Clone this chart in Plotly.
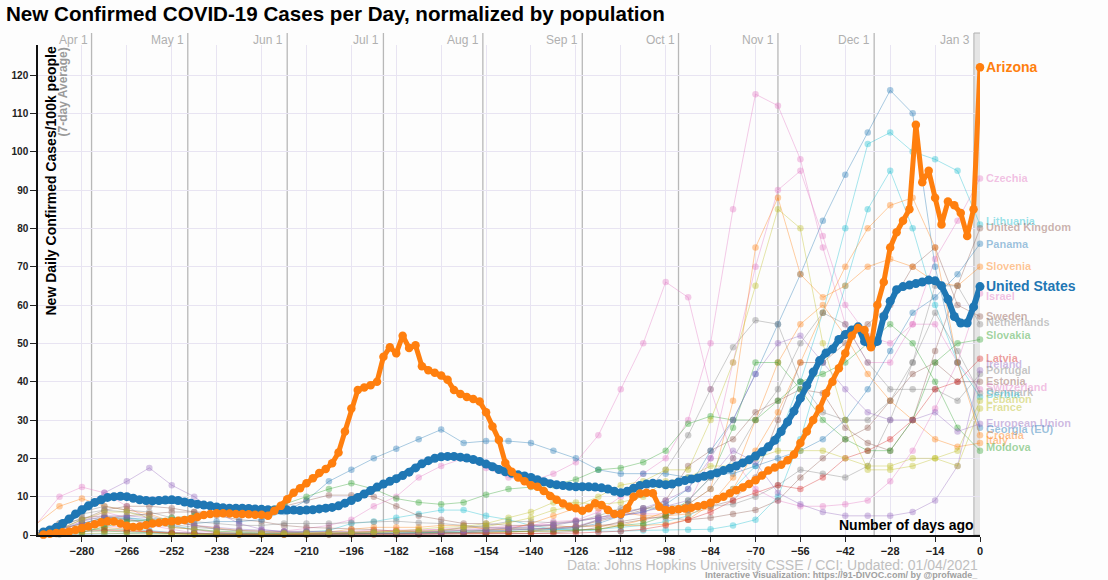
import plotly.graph_objects as go

# ---------------- data ----------------
main_days = list(range(-292, 1, 2))
us = [
    0.8, 1.3, 2.0, 3.0, 4.2, 5.5, 6.6, 7.6, 8.5, 9.2,
    9.8, 10.0, 10.1, 10.0, 9.6, 9.2, 9.0, 8.9, 9.0, 9.1,
    9.2, 9.0, 8.6, 8.3, 8.0, 7.8, 7.6, 7.3, 7.1, 7.0,
    7.0, 7.0, 6.9, 6.8, 6.7, 6.6, 6.5, 6.5, 6.5, 6.5,
    6.4, 6.5, 6.6, 6.8, 7.0, 7.2, 7.6, 8.3, 9.0, 9.8,
    10.7, 11.6, 12.5, 13.3, 14.0, 14.7, 15.5, 16.4, 17.5, 18.6,
    19.4, 20.0, 20.4, 20.5, 20.5, 20.3, 20.1, 19.7, 19.2, 18.5,
    17.8, 17.1, 16.5, 16.1, 15.7, 15.4, 15.0, 14.4, 13.9, 13.4,
    13.1, 12.9, 12.7, 12.6, 12.6, 12.6, 12.5, 12.3, 12.0, 11.4,
    11.0, 11.4, 12.2, 12.9, 13.3, 13.5, 13.4, 13.1, 13.3, 13.8,
    14.2, 14.6, 14.9, 15.3, 15.7, 16.2, 16.8, 17.4, 18.0, 18.8,
    19.6, 20.6, 21.7, 23.0, 24.7, 27.0, 29.5, 32.3, 35.7, 39.0,
    42.5, 45.5, 47.5, 48.5, 51.0, 52.3, 53.5, 54.3, 50.5, 49.2,
    50.5, 57.0, 61.0, 64.0, 64.8, 65.2, 65.6, 66.0, 66.5, 66.3,
    65.0, 61.5, 57.0, 55.3, 55.3, 59.5, 64.8,
]
arizona = [
    0.1, 0.3, 0.5, 0.7, 0.9, 1.3, 1.8, 2.3, 2.8, 3.3,
    3.6, 3.5, 3.0, 2.4, 2.1, 2.2, 2.6, 3.0, 3.2, 3.4,
    3.6, 3.7, 3.9, 4.2, 4.7, 5.2, 5.5, 5.7, 5.7, 5.6,
    5.5, 5.5, 5.4, 5.3, 5.3, 5.0, 6.3, 7.6, 9.3, 11.0,
    12.2, 13.5, 14.8, 16.2, 17.2, 18.7, 21.5, 27.0, 33.0, 37.8,
    38.5, 39.1, 40.0, 46.5, 49.0, 47.4, 52.0, 48.8, 49.5, 44.0,
    43.0, 42.3, 41.6, 40.5, 37.8, 36.8, 36.0, 35.5, 34.8, 32.0,
    28.3, 24.8, 18.8, 16.5, 15.0, 14.0, 13.0, 12.6, 11.5, 10.2,
    9.2, 8.2, 7.4, 7.0, 6.3, 7.0, 8.3, 7.8, 6.5, 5.5,
    5.5, 7.0, 10.0, 10.8, 11.0, 10.9, 7.4, 6.5, 6.5, 6.7,
    6.9, 7.1, 7.5, 7.8, 8.4, 9.4, 10.0, 10.9, 11.7, 12.4,
    13.3, 14.3, 15.5, 16.8, 17.6, 18.3, 19.5, 21.0, 24.0, 27.0,
    30.0, 33.0, 37.0, 40.0, 43.5, 47.4, 52.0, 54.0, 53.5, 49.0,
    60.0, 66.0, 75.0, 79.0, 82.0, 85.0, 107.0, 92.0, 95.0, 88.0,
    81.0, 87.0, 86.0, 84.0, 78.0, 85.0, 122.0,
]

week_days = list(range(-294, 1, 7))
czechia = [0.3, 1.2, 2.3, 2.5, 1.8, 1.0, 0.6, 0.5, 0.4, 0.5, 0.5, 0.6, 0.8, 0.7, 1.0, 1.3, 1.1, 1.2, 1.4, 2.0, 2.0, 2.2,
           2.6, 2.8, 3.8, 6.0, 10.0, 16.0, 20.0, 30.0, 50.0, 85.0, 115.0, 112.0, 98.0, 75.0, 55.0, 45.0, 45.0, 55.0, 72.0, 82.0, 93.0]
israel = [0.1, 0.8, 3.5, 6.0, 4.5, 2.5, 1.5, 0.5, 0.2, 0.2, 0.4, 1.0, 1.7, 2.5, 4.0, 7.5, 10.0, 15.0, 18.0, 20.0, 17.5, 15.0,
          14.0, 16.0, 19.0, 26.0, 38.0, 50.0, 66.0, 62.0, 38.0, 20.0, 12.0, 9.0, 7.5, 7.5, 8.0, 9.0, 14.0, 22.0, 33.0, 45.0, 63.0]
switzerland = [3.0, 10.0, 12.5, 11.0, 7.5, 4.0, 2.5, 1.2, 0.6, 0.4, 0.3, 0.3, 0.3, 0.4, 0.6, 0.9, 1.3, 1.3, 1.5, 1.5, 1.7, 2.0,
               2.5, 3.5, 3.8, 4.5, 5.5, 5.5, 5.5, 8.0, 20.0, 45.0, 70.0, 90.0, 95.0, 78.0, 60.0, 52.0, 50.0, 55.0, 55.0, 45.0, 38.0]
lithuania = [0.1, 0.5, 1.5, 1.5, 1.5, 1.2, 0.6, 0.5, 0.3, 0.3, 0.3, 0.3, 0.2, 0.2, 0.3, 0.3, 0.4, 0.5, 0.8, 1.0, 1.2, 1.2,
             1.5, 1.5, 1.3, 1.5, 2.0, 2.5, 3.5, 5.0, 8.0, 12.0, 18.0, 25.0, 40.0, 58.0, 80.0, 102.0, 105.0, 100.0, 98.0, 95.0, 81.0]
serbia = [0.1, 0.5, 1.5, 3.0, 4.5, 3.5, 2.5, 1.5, 1.0, 0.7, 0.5, 0.4, 0.8, 1.2, 3.0, 3.5, 4.5, 5.5, 6.5, 6.5, 5.0, 4.0,
          2.5, 1.5, 1.5, 1.0, 1.0, 1.2, 1.3, 1.4, 1.5, 2.5, 4.0, 10.0, 25.0, 45.0, 65.0, 85.0, 95.0, 80.0, 60.0, 45.0, 36.0]
united_kingdom = [0.5, 1.5, 4.0, 6.5, 7.5, 7.5, 7.0, 6.0, 5.0, 4.0, 3.5, 2.5, 2.0, 1.8, 1.5, 1.4, 1.0, 1.0, 1.0, 1.2, 1.2, 1.4,
                  1.6, 1.8, 2.2, 3.5, 5.0, 6.5, 9.0, 18.0, 22.0, 25.0, 32.0, 35.0, 38.0, 37.0, 28.0, 24.0, 22.0, 30.0, 48.0, 65.0, 80.0]
sweden = [1.0, 1.5, 3.0, 4.5, 5.0, 5.5, 6.0, 6.0, 6.0, 6.5, 6.5, 7.5, 9.0, 10.4, 10.4, 10.0, 7.5, 5.0, 4.0, 3.0, 3.0, 2.5,
          2.5, 2.5, 2.0, 2.5, 3.0, 4.0, 5.0, 6.5, 7.5, 9.0, 15.0, 30.0, 45.0, 45.0, 50.0, 55.0, 60.0, 70.0, 75.0, 60.0, 57.0]
estonia = [0.3, 2.0, 4.5, 5.0, 4.0, 3.0, 2.0, 1.5, 0.7, 0.4, 0.2, 0.1, 0.1, 0.1, 0.1, 0.1, 0.1, 0.1, 0.2, 0.3, 0.3, 0.3,
           0.4, 0.6, 1.0, 2.0, 3.5, 4.5, 4.5, 4.0, 4.5, 5.5, 6.5, 9.0, 15.0, 20.0, 25.0, 28.0, 35.0, 42.0, 45.0, 40.0, 40.0]
panama = [0.5, 1.5, 3.0, 4.5, 4.5, 4.0, 3.5, 3.0, 3.5, 3.5, 4.0, 6.0, 9.0, 14.0, 17.0, 20.0, 22.5, 25.0, 27.5, 24.0, 24.5, 24.5,
          24.0, 22.0, 20.0, 17.0, 16.0, 16.0, 16.0, 15.0, 16.0, 16.0, 18.0, 20.0, 22.0, 25.0, 30.0, 38.0, 48.0, 58.0, 62.0, 68.0, 76.0]
georgia = [0.0, 0.1, 0.3, 0.4, 0.5, 0.5, 0.4, 0.3, 0.3, 0.3, 0.3, 0.4, 0.4, 0.4, 0.4, 0.5, 0.5, 0.5, 0.6, 0.6, 0.7, 0.8,
           1.0, 1.5, 2.0, 3.0, 5.0, 6.0, 8.0, 12.0, 22.0, 30.0, 42.0, 55.0, 68.0, 82.0, 94.0, 105.0, 116.0, 110.0, 70.0, 45.0, 28.0]
slovenia = [0.5, 2.0, 2.5, 2.0, 1.5, 0.8, 0.4, 0.2, 0.1, 0.1, 0.1, 0.1, 0.2, 0.3, 0.6, 1.0, 1.0, 0.8, 0.7, 0.6, 0.5, 0.7,
            0.8, 1.0, 1.2, 1.5, 2.5, 4.0, 6.0, 8.0, 12.0, 35.0, 75.0, 88.0, 68.0, 62.0, 65.0, 70.0, 72.0, 70.0, 66.0, 65.0, 70.0]
croatia = [0.1, 0.8, 1.5, 1.5, 1.2, 0.8, 0.4, 0.2, 0.1, 0.1, 0.1, 0.1, 0.3, 0.8, 1.5, 2.0, 2.0, 2.0, 2.5, 2.5, 1.5, 1.5,
           3.0, 5.0, 7.0, 7.0, 6.0, 5.0, 5.0, 5.5, 7.0, 12.0, 22.0, 32.0, 45.0, 58.0, 70.0, 80.0, 86.0, 88.0, 75.0, 45.0, 26.0]
italy = [3.0, 7.5, 9.5, 7.5, 6.5, 5.5, 3.5, 2.5, 1.8, 1.2, 1.0, 0.6, 0.4, 0.3, 0.3, 0.3, 0.3, 0.3, 0.4, 0.5, 0.6, 0.8,
         1.0, 2.0, 2.3, 2.4, 2.5, 2.5, 2.8, 4.0, 8.0, 15.0, 30.0, 45.0, 55.0, 60.0, 52.0, 42.0, 35.0, 30.0, 25.0, 23.0, 24.0]
netherlands = [0.5, 3.0, 5.5, 6.5, 6.0, 5.0, 3.5, 2.5, 1.5, 1.2, 1.0, 0.9, 1.0, 0.9, 0.6, 0.5, 0.5, 0.6, 1.0, 2.0, 2.5, 3.5,
               3.5, 3.2, 3.5, 5.0, 7.0, 10.5, 17.0, 26.0, 38.0, 49.0, 56.0, 55.0, 40.0, 32.0, 30.0, 30.0, 35.0, 45.0, 65.0, 65.0, 55.0]
portugal = [0.3, 2.0, 6.0, 7.5, 6.5, 6.0, 4.5, 3.5, 3.0, 2.5, 2.5, 3.0, 3.0, 3.0, 3.2, 3.4, 3.6, 3.2, 3.0, 2.5, 2.0, 1.8,
            2.0, 2.5, 3.5, 4.5, 6.0, 7.0, 7.5, 8.0, 12.0, 20.0, 30.0, 38.0, 50.0, 58.0, 55.0, 45.0, 38.0, 38.0, 38.0, 35.0, 42.0]
denmark = [1.0, 3.0, 4.0, 4.5, 4.0, 3.5, 2.8, 2.0, 1.6, 1.0, 0.8, 0.7, 0.6, 0.5, 0.5, 0.4, 0.3, 0.3, 0.4, 0.7, 1.3, 1.8,
           1.5, 1.7, 1.8, 4.0, 5.5, 7.0, 6.5, 6.5, 7.5, 8.0, 10.0, 13.0, 17.0, 16.0, 15.0, 18.0, 30.0, 45.0, 58.0, 48.0, 37.0]
slovakia = [0.2, 0.5, 1.0, 1.0, 0.8, 0.6, 0.3, 0.2, 0.1, 0.1, 0.1, 0.1, 0.1, 0.2, 0.3, 0.5, 0.5, 0.6, 0.7, 0.8, 0.8, 0.9,
            1.0, 1.0, 1.2, 1.5, 2.5, 3.0, 5.0, 9.0, 15.0, 28.0, 45.0, 45.0, 38.0, 30.0, 25.0, 22.0, 22.0, 30.0, 45.0, 50.0, 51.0]
moldova = [0.1, 0.3, 0.7, 2.0, 3.5, 4.0, 4.5, 5.0, 5.5, 6.0, 7.0, 8.0, 10.0, 12.0, 13.5, 12.0, 9.5, 8.5, 8.0, 8.5, 10.5, 12.0,
           12.5, 13.0, 14.5, 17.0, 17.5, 19.0, 22.0, 29.0, 31.0, 30.0, 30.0, 35.0, 40.0, 42.0, 45.0, 50.0, 55.0, 50.0, 40.0, 28.0, 22.0]
latvia = [0.1, 0.5, 1.0, 1.2, 1.0, 0.8, 0.6, 0.5, 0.3, 0.2, 0.2, 0.1, 0.1, 0.1, 0.1, 0.1, 0.1, 0.2, 0.3, 0.3, 0.4, 0.4,
          0.4, 0.4, 0.5, 0.7, 1.0, 1.5, 2.5, 4.0, 6.0, 9.0, 11.0, 13.0, 12.0, 15.0, 20.0, 22.0, 25.0, 30.0, 38.0, 40.0, 46.0]
ireland = [0.5, 2.5, 7.0, 11.0, 14.0, 17.5, 13.0, 10.0, 6.0, 3.0, 1.5, 0.8, 0.5, 0.3, 0.3, 0.3, 0.3, 0.4, 0.5, 0.6, 0.9, 1.3,
           1.6, 1.8, 2.2, 4.0, 5.0, 6.0, 7.5, 9.0, 15.0, 22.0, 19.0, 11.0, 8.0, 6.0, 5.0, 5.0, 5.0, 6.0, 9.0, 18.0, 43.0]
european_union = [0.5, 1.5, 3.5, 5.0, 5.0, 4.5, 3.5, 2.5, 2.0, 1.5, 1.3, 1.0, 0.9, 0.8, 0.8, 0.8, 0.8, 0.9, 1.0, 1.2, 1.5, 1.8,
                  2.2, 2.8, 3.5, 4.5, 5.5, 7.0, 9.0, 12.0, 20.0, 30.0, 42.0, 50.0, 52.0, 45.0, 38.0, 32.0, 30.0, 30.0, 32.0, 27.0, 29.0]
lebanon = [0.05, 0.2, 0.5, 0.5, 0.3, 0.2, 0.1, 0.1, 0.5, 0.5, 0.3, 0.3, 0.4, 0.4, 0.5, 0.6, 1.0, 1.5, 2.0, 2.2, 3.0, 4.5,
           6.0, 8.5, 8.5, 8.0, 8.5, 10.0, 14.0, 15.0, 18.0, 18.0, 20.0, 22.0, 22.0, 22.0, 20.0, 18.0, 18.0, 20.0, 20.0, 22.0, 35.0]
france = [0.3, 1.5, 4.0, 6.0, 6.0, 4.5, 2.0, 1.5, 1.0, 0.8, 0.5, 0.5, 0.6, 0.7, 0.7, 0.8, 0.9, 1.0, 1.3, 1.7, 2.2, 3.2,
          4.5, 6.5, 7.5, 10.0, 13.0, 14.0, 17.0, 17.0, 30.0, 45.0, 65.0, 85.0, 80.0, 50.0, 30.0, 17.0, 17.0, 18.0, 20.0, 18.0, 33.0]

country_names = ["Czechia", "Israel", "Switzerland", "Lithuania", "Serbia", "United Kingdom", "Sweden",
                 "Estonia", "Panama", "Georgia (EU)", "Slovenia", "Croatia", "Italy", "Netherlands",
                 "Portugal", "Denmark", "Slovakia", "Moldova", "Latvia", "Ireland", "European Union",
                 "Lebanon", "France"]
country_series = [czechia, israel, switzerland, lithuania, serbia, united_kingdom, sweden,
                  estonia, panama, georgia, slovenia, croatia, italy, netherlands,
                  portugal, denmark, slovakia, moldova, latvia, ireland, european_union,
                  lebanon, france]
country_colors = ["#e377c2", "#e377c2", "#e377c2", "#17becf", "#17becf", "#8c564b", "#8c564b",
                  "#8c564b", "#1f77b4", "#1f77b4", "#ff7f0e", "#ff7f0e", "#ff7f0e", "#7f7f7f",
                  "#7f7f7f", "#7f7f7f", "#2ca02c", "#2ca02c", "#d62728", "#9467bd", "#9467bd",
                  "#bcbd22", "#bcbd22"]
# label positions at the right edge (value units)
label_y = {"Czechia": 93.1, "Lithuania": 81.9, "United Kingdom": 80.4, "Panama": 75.9, "Slovenia": 70.2,
           "Israel": 62.4, "Sweden": 57.1, "Netherlands": 55.6, "Slovakia": 52.2, "Latvia": 46.2,
           "Ireland": 44.6, "Portugal": 43.0, "Estonia": 40.2, "Switzerland": 38.6, "Denmark": 37.3,
           "Serbia": 36.8, "Lebanon": 35.5, "France": 33.4, "European Union": 29.2, "Georgia (EU)": 27.7,
           "Croatia": 26.1, "Italy": 24.8, "Moldova": 23.0}
label_colors = {"Czechia": "#e377c2", "Lithuania": "#17becf", "United Kingdom": "#8c564b", "Panama": "#1f77b4",
                "Slovenia": "#ff7f0e", "Israel": "#e377c2", "Sweden": "#8c564b", "Netherlands": "#7f7f7f",
                "Slovakia": "#2ca02c", "Latvia": "#d62728", "Ireland": "#9467bd", "Portugal": "#7f7f7f",
                "Estonia": "#8c564b", "Switzerland": "#e377c2", "Denmark": "#7f7f7f", "Serbia": "#17becf",
                "Lebanon": "#bcbd22", "France": "#bcbd22", "European Union": "#9467bd",
                "Georgia (EU)": "#1f77b4", "Croatia": "#ff7f0e", "Italy": "#ff7f0e", "Moldova": "#2ca02c"}

x_ticks = list(range(-280, 1, 14))
y_ticks = list(range(0, 121, 10))
month_days = [-277, -247, -216, -186, -155, -124, -94, -63, -33]
month_labels = ["Apr 1", "May 1", "Jun 1", "Jul 1", "Aug 1", "Sep 1", "Oct 1", "Nov 1", "Dec 1"]
last_day_band = [-1.9, 0.5]
last_day_label = "Jan 3"

# ---------------- layout helpers (page pixel coordinates) ----------------
PW, PH = 1108, 580
L, R, T, B = 38, 980, 45, 535
X_RANGE = [-293.7, 0]
Y_RANGE = [0, (B - T) / 3.833]
FONT = "Liberation Sans, Arial, sans-serif"


def px(xp):
    return (xp - L) / (R - L)


def py(yp):
    return (B - yp) / (B - T)


def rgba(hexc, a):
    h = hexc.lstrip("#")
    return "rgba(%d,%d,%d,%.2f)" % (int(h[0:2], 16), int(h[2:4], 16), int(h[4:6], 16), a)


fig = go.Figure()

for name, vals, col in zip(country_names, country_series, country_colors):
    fig.add_trace(go.Scatter(
        x=week_days, y=vals, mode="lines+markers", name=name,
        line=dict(color=rgba(col, 0.38), width=1),
        marker=dict(color=rgba(col, 0.38), size=6.5),
        cliponaxis=False, hoverinfo="skip", showlegend=False))

fig.add_trace(go.Scatter(
    x=main_days, y=us, mode="lines+markers", name="United States",
    line=dict(color="#1f77b4", width=6), marker=dict(color="#1f77b4", size=9),
    cliponaxis=False, hoverinfo="skip", showlegend=False))
fig.add_trace(go.Scatter(
    x=main_days, y=arizona, mode="lines+markers", name="Arizona",
    line=dict(color="#ff7f0e", width=5), marker=dict(color="#ff7f0e", size=8.5),
    cliponaxis=False, hoverinfo="skip", showlegend=False))

shapes = []
for d in month_days:
    shapes.append(dict(type="line", xref="x", yref="paper", x0=d, x1=d, y0=0, y1=py(33),
                       line=dict(color="#b8b8b8", width=1.3), layer="below"))
shapes.append(dict(type="rect", xref="x", yref="paper", x0=last_day_band[0], x1=last_day_band[1],
                   y0=0, y1=py(33), fillcolor="rgba(200,200,200,0.45)",
                   line=dict(color="#b0b0b0", width=1), layer="below"))

annotations = []
for d, lab in zip(month_days + [last_day_band[0]], month_labels + [last_day_label]):
    annotations.append(dict(x=d, y=py(40), xref="x", yref="paper", text=lab, showarrow=False,
                            xanchor="right", yanchor="middle", xshift=-2,
                            font=dict(family=FONT, size=12, color="#b0b0b0")))

for name, yv in label_y.items():
    annotations.append(dict(x=0, y=yv, xref="x", yref="y", text=name, showarrow=False,
                            xanchor="left", yanchor="middle", xshift=4,
                            font=dict(family=FONT, size=11, color=rgba(label_colors[name], 0.45), weight="bold")))

annotations.append(dict(x=0, y=122, xref="x", yref="y", text="Arizona", showarrow=False,
                        xanchor="left", yanchor="middle", xshift=4,
                        font=dict(family=FONT, size=14, color="#ff7f0e", weight="bold")))
annotations.append(dict(x=0, y=65, xref="x", yref="y", text="United States", showarrow=False,
                        xanchor="left", yanchor="middle", xshift=4,
                        font=dict(family=FONT, size=14, color="#1f77b4", weight="bold")))

annotations.append(dict(x=px(4), y=py(13.5), xref="paper", yref="paper",
                        text="New Confirmed COVID-19 Cases per Day, normalized by population",
                        showarrow=False, xanchor="left", yanchor="middle",
                        font=dict(family=FONT, size=20.6, color="black", weight="bold")))
annotations.append(dict(x=px(50), y=py(45), xref="paper", yref="paper",
                        text="New Daily Confirmed Cases/100k people", textangle=-90,
                        showarrow=False, xanchor="center", yanchor="top",
                        font=dict(family=FONT, size=14, color="black", weight="bold")))
annotations.append(dict(x=px(62), y=py(46), xref="paper", yref="paper",
                        text="(7-day Average)", textangle=-90,
                        showarrow=False, xanchor="center", yanchor="top",
                        font=dict(family=FONT, size=12, color="#9a9a9a", weight="bold")))
annotations.append(dict(x=px(976), y=py(525), xref="paper", yref="paper",
                        text="Number of days ago", showarrow=False, xanchor="right", yanchor="middle",
                        font=dict(family=FONT, size=14, color="black", weight="bold")))
annotations.append(dict(x=px(980), y=py(565), xref="paper", yref="paper",
                        text="Data: Johns Hopkins University CSSE / CCI; Updated: 01/04/2021",
                        showarrow=False, xanchor="right", yanchor="middle",
                        font=dict(family=FONT, size=14, color="#c0c0c0")))
annotations.append(dict(x=px(980), y=py(575), xref="paper", yref="paper",
                        text="Interactive Visualization: https://91-DIVOC.com/ by @profwade_",
                        showarrow=False, xanchor="right", yanchor="middle",
                        font=dict(family=FONT, size=9, color="#a0a0a0", weight="bold")))

fig.update_layout(
    width=PW, height=PH,
    margin=dict(l=L, r=PW - R, t=T, b=PH - B, pad=0),
    paper_bgcolor="#fdfdfd", plot_bgcolor="#fdfdfd",
    font=dict(family=FONT),
    xaxis=dict(range=X_RANGE, tickvals=x_ticks, ticks="outside", ticklen=5, tickcolor="#222",
               showline=True, linecolor="#111", linewidth=1.5, showgrid=True, gridcolor="#e8e4f2",
               zeroline=False, tickfont=dict(family=FONT, size=11, color="#222", weight="bold"),
               fixedrange=True),
    yaxis=dict(range=Y_RANGE, tickvals=y_ticks, ticks="outside", ticklen=6, tickcolor="#222",
               showline=True, linecolor="#111", linewidth=1.5, showgrid=True, gridcolor="#e8e4f2",
               zeroline=False, tickfont=dict(family=FONT, size=10, color="#222", weight="bold"),
               fixedrange=True),
    shapes=shapes, annotations=annotations, hovermode=False,
)

fig.write_html("out.html", config={"displayModeBar": False},
               post_script="document.body.style.margin='0px';document.body.style.overflow='hidden';")
